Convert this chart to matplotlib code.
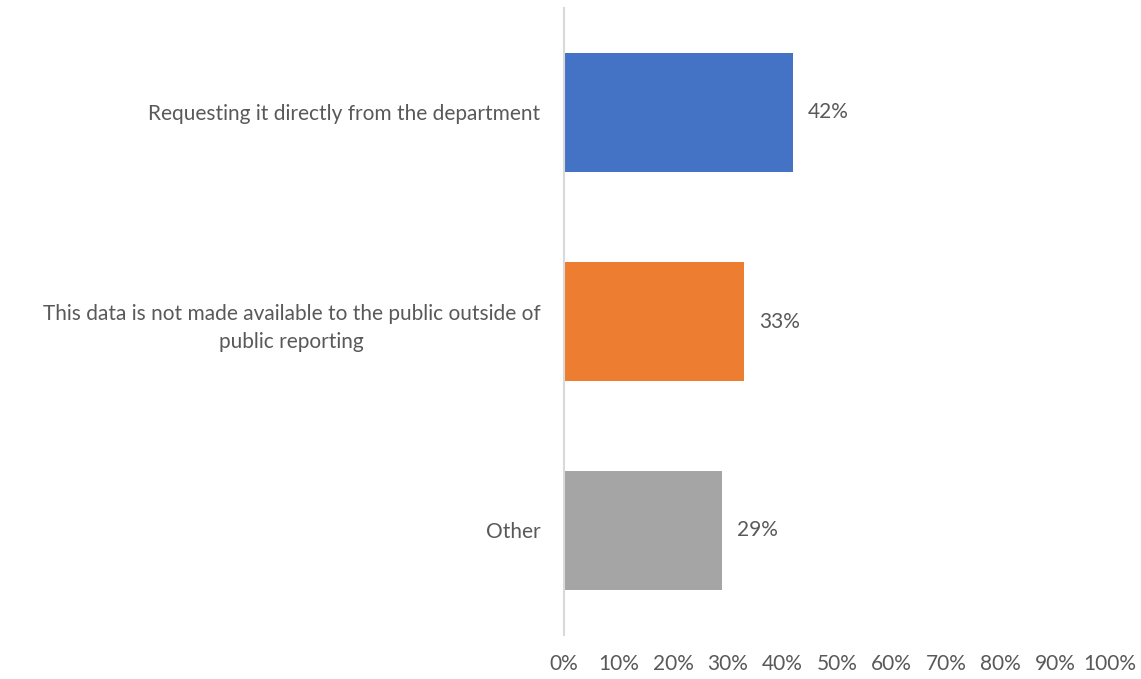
import matplotlib.pyplot as plt

categories = [
    "Requesting it directly from the department",
    "This data is not made available to the public outside of\npublic reporting",
    "Other",
]
values = [42, 33, 29]
colors = ["#4472C4", "#ED7D31", "#A5A5A5"]
xticks = list(range(0, 101, 10))

plt.rcParams["font.family"] = ["Lato", "DejaVu Sans"]
TEXT = "#595959"
FS = 15

fig = plt.figure(figsize=(11.41, 6.79), dpi=100, facecolor="white")
ax = fig.add_axes([564 / 1141, 1 - 635 / 679, 546 / 1141, 627 / 679])

ypos = range(len(categories))
ax.barh(ypos, values, height=0.574, color=colors)
for y, v in zip(ypos, values):
    ax.text(v + 2.7, y, f"{v}%", va="center", ha="left", fontsize=FS, color=TEXT)

ax.set_xlim(0, 100)
ax.set_ylim(len(categories) - 0.5, -0.5)
ax.set_yticks(list(ypos))
ax.set_yticklabels(categories, multialignment="center", linespacing=1.5)
ax.set_xticks(xticks)
ax.set_xticklabels([f"{t}%" for t in xticks])
ax.tick_params(axis="both", length=0, labelsize=FS, labelcolor=TEXT)
ax.tick_params(axis="x", pad=14)
ax.tick_params(axis="y", pad=17)

for side in ["top", "right", "bottom"]:
    ax.spines[side].set_visible(False)
ax.spines["left"].set_color("#D9D9D9")
ax.spines["left"].set_linewidth(1.5)

fig.savefig("out.png", dpi=100)
